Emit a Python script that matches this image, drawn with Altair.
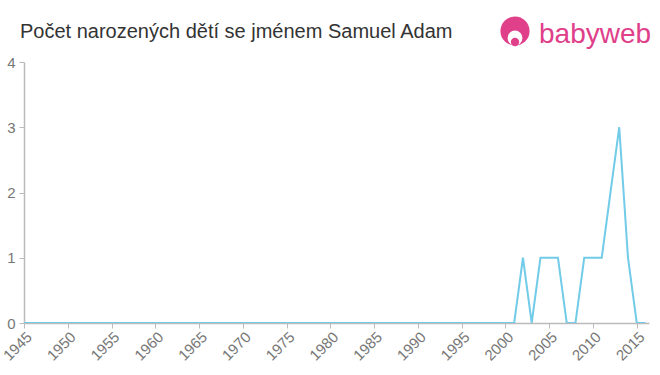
import altair as alt
import pandas as pd

years = list(range(1945, 2017))
counts = [
    0, 0, 0, 0, 0, 0, 0, 0, 0, 0,   # 1945-1954
    0, 0, 0, 0, 0, 0, 0, 0, 0, 0,   # 1955-1964
    0, 0, 0, 0, 0, 0, 0, 0, 0, 0,   # 1965-1974
    0, 0, 0, 0, 0, 0, 0, 0, 0, 0,   # 1975-1984
    0, 0, 0, 0, 0, 0, 0, 0, 0, 0,   # 1985-1994
    0, 0, 0, 0, 0, 0,               # 1995-2000
    0, 1, 0, 1, 1, 1, 0, 0, 1, 1,   # 2001-2010
    1, 2, 3, 1, 0, 0,               # 2011-2016
]
x_ticks = list(range(1945, 2016, 5))
y_ticks = [0, 1, 2, 3, 4]

title_text = "Počet narozených dětí se jménem Samuel Adam"
logo_text = "babyweb"

df = pd.DataFrame({"rok": years, "pocet": counts})

W, H = 625, 261
LABEL_COLOR = "#777777"
AXIS_COLOR = "#bbbbbb"

line = alt.Chart(df).mark_line(color="#72cbe8", strokeWidth=2, clip=True).encode(
    x=alt.X("rok:Q",
            scale=alt.Scale(domain=[1945, 2016.4], nice=False, zero=False),
            axis=alt.Axis(values=x_ticks, format="d", labelAngle=-45, labelAlign="right",
                          labelBaseline="top", labelFontSize=15, labelPadding=1,
                          labelOverlap=False, title=None)),
    y=alt.Y("pocet:Q",
            scale=alt.Scale(domain=[0, 4], nice=False),
            axis=alt.Axis(values=y_ticks, format="d", labelFontSize=15, labelPadding=4,
                          title=None)),
)

title = alt.Chart(pd.DataFrame({"t": [title_text]})).mark_text(
    align="left", baseline="alphabetic", fontSize=20, color="#333333", font="Liberation Sans"
).encode(x=alt.value(-4), y=alt.value(-24), text="t:N")

logo_circle = alt.Chart(pd.DataFrame({"a": [1]})).mark_circle(
    color="#e0408a", opacity=1, size=850
).encode(x=alt.value(491), y=alt.value(-31))

logo_face = alt.Chart(pd.DataFrame({"a": [1]})).mark_circle(
    color="white", opacity=1, size=220
).encode(x=alt.value(491), y=alt.value(-24))

logo_dot = alt.Chart(pd.DataFrame({"a": [1]})).mark_circle(
    color="#e0408a", opacity=1, size=70
).encode(x=alt.value(491), y=alt.value(-20))

logo = alt.Chart(pd.DataFrame({"t": [logo_text]})).mark_text(
    align="left", baseline="alphabetic", fontSize=28, color="#e0408a", font="Liberation Sans"
).encode(x=alt.value(515), y=alt.value(-19), text="t:N")

chart = alt.layer(line, title, logo_circle, logo_face, logo_dot, logo).properties(
    width=W, height=H,
    autosize=alt.AutoSizeParams(type="none"),
    padding={"left": 24, "top": 62, "right": 11, "bottom": 52},
).configure(
    background="white"
).configure_view(
    stroke=None
).configure_axis(
    labelFont="Liberation Sans", labelColor=LABEL_COLOR,
    domainColor=AXIS_COLOR, tickColor=AXIS_COLOR, domainWidth=1.5,
    tickSize=5, grid=False
)

chart.save("out.html", embed_options={"renderer": "svg", "actions": False})
